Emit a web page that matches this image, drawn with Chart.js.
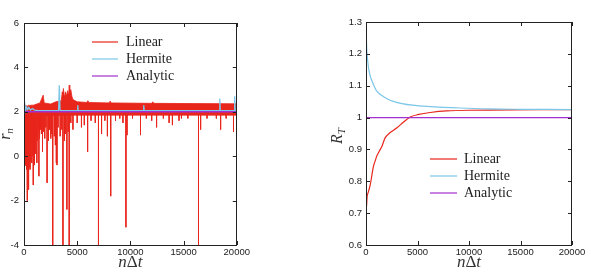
<!DOCTYPE html>
<html>
<head>
<meta charset="utf-8">
<script src="https://cdn.jsdelivr.net/npm/chart.js@4/dist/chart.umd.min.js"></script>
<style>
html, body { margin: 0; padding: 0; background: #fff; overflow: hidden; }
canvas { position: absolute; top: 0; }
#left { left: 0; }
#right { left: 295px; }
</style>
</head>
<body>
<canvas id="left" width="252" height="277"></canvas>
<canvas id="right" width="296" height="277"></canvas>
<script>
var xTicks = [0, 5000, 10000, 15000, 20000];

// left panel: r_n
var bandX     = [0, 100, 300, 450, 560, 700, 900, 1000, 1200, 1500, 1800, 1900, 2500, 3000, 3500, 3600, 3650, 3700, 3800, 3900, 4000, 4100, 4200, 4250, 4300, 4400, 4500, 4600, 4800, 5000, 5900, 6000, 6100, 8000, 8100, 8200, 12000, 12100, 12200, 16000, 20000];
var bandUpper = [2.25, 2.3, 2.25, 2.3, 2.28, 2.3, 2.3, 2.32, 2.35, 2.4, 2.75, 2.4, 2.35, 2.45, 2.5, 2.9, 2.6, 3.05, 2.65, 2.9, 2.7, 2.95, 2.75, 3.2, 2.8, 3.0, 2.7, 2.55, 2.5, 2.45, 2.42, 2.5, 2.42, 2.4, 2.48, 2.4, 2.38, 2.45, 2.38, 2.37, 2.36];
var bandLower = [0.2, -0.4, -0.5, -0.3, 0.5, 1.0, 1.4, 1.55, 1.65, 1.75, 1.8, 1.82, 1.83, 1.84, 1.84, 1.84, 1.84, 1.84, 1.84, 1.84, 1.84, 1.84, 1.84, 1.84, 1.84, 1.84, 1.84, 1.84, 1.85, 1.85, 1.85, 1.85, 1.85, 1.85, 1.85, 1.85, 1.85, 1.85, 1.85, 1.85, 1.85];
var spikeX   = [40, 80, 120, 160, 200, 250, 310, 350, 390, 430, 480, 520, 570, 620, 680, 730, 780, 870, 920, 980, 1050, 1100, 1150, 1210, 1260, 1330, 1400, 1460, 1550, 1640, 1740, 1850, 1950, 2050, 2170, 2300, 2400, 2520, 2600, 2700, 2850, 2950, 3040, 3100, 3200, 3400, 3550, 3660, 3800, 3900, 4030, 4150, 4250, 4400, 4600, 5000, 5400, 5670, 5980, 6300, 6700, 7000, 7290, 7600, 7840, 8150, 8600, 9000, 9300, 9580, 9680, 10200, 10950, 11500, 12000, 12460, 13100, 13640, 13950, 14570, 14800, 15400, 16400, 16600, 17200, 18080, 18480, 19000, 19690];
var spikeMin = [0.3, -0.1, 0.6, -0.3, 0.2, -0.6, -2.0, -0.4, 0.1, -1.5, -0.5, 0.4, -0.6, -0.2, 0.5, -0.3, 0.0, -1.3, 0.2, -0.4, 0.6, 0.1, 0.9, -0.3, 0.7, 1.1, -0.9, 0.8, 1.2, 1.0, 0.2, 1.1, 0.8, 1.3, -1.2, 0.7, 1.2, 0.8, 1.0, -4.2, 0.9, 0.5, -0.3, -0.4, 1.3, 0.9, 1.2, -4.2, 0.7, 1.0, -2.4, 1.1, -4.2, 1.5, 1.2, 1.5, 1.3, 1.4, 0.2, 1.6, 1.5, -4.2, 1.0, 1.6, 0.9, -1.8, 1.6, 1.7, 1.5, -3.2, 0.95, 1.7, 0.95, 1.7, 1.6, 1.3, 1.7, 1.5, 1.4, 1.6, 1.7, 1.7, -4.2, 1.2, 1.7, 1.7, 1.2, 1.7, 1.1];
var hermLX = [0, 50, 100, 150, 250, 350, 450, 600, 800, 1000, 1300, 3250, 3320, 3390, 5000, 5050, 5100, 11200, 11250, 11300, 18350, 18400, 18450, 19750, 19800, 19850, 20000];
var hermLY = [2.4, 2.1, 2.25, 2.05, 2.2, 2.1, 2.2, 2.08, 2.15, 2.07, 2.05, 2.05, 3.2, 2.05, 2.05, 2.3, 2.05, 2.05, 2.3, 2.05, 2.05, 2.6, 2.05, 2.05, 2.7, 2.05, 2.05];
var analyticLX = [0, 20000];
var analyticLY = [2, 2];

// right panel: R_T
var linRX = [0, 60, 120, 260, 420, 600, 740, 900, 1060, 1300, 1550, 1870, 2350, 3000, 3650, 4290, 5000, 6230, 7840, 10000, 14000, 20000];
var linRY = [0.71, 0.725, 0.755, 0.77, 0.79, 0.825, 0.849, 0.865, 0.88, 0.895, 0.91, 0.937, 0.953, 0.968, 0.986, 1.002, 1.009, 1.016, 1.021, 1.023, 1.024, 1.025];
var hermRX = [0, 40, 80, 160, 250, 420, 600, 800, 1060, 1500, 2000, 2650, 3500, 4500, 5900, 7500, 9150, 12000, 15000, 20000];
var hermRY = [1.32, 1.25, 1.21, 1.18, 1.155, 1.129, 1.113, 1.098, 1.082, 1.07, 1.06, 1.051, 1.044, 1.039, 1.035, 1.032, 1.030, 1.027, 1.026, 1.025];
var analyticRX = [0, 20000];
var analyticRY = [1, 1];

var RED = "#e8261c", CYAN = "#7cc6e8", PURPLE = "#a22fcf";
var labels = ["Linear", "Hermite", "Analytic"];
var colors = [RED, CYAN, PURPLE];

function pts(xs, ys) {
    return xs.map(function (x, i) { return { x: x, y: ys[i] }; });
}

var spikePts = [];
spikeX.forEach(function (x, i) {
    spikePts.push({ x: x, y: 1.9 }, { x: x, y: spikeMin[i] }, { x: x, y: null });
});

// box, inward ticks, titles and legend
var decor = {
    id: "decor",
    afterDraw: function (chart) {
        var o = chart.options.plugins.decor;
        var ctx = chart.ctx, a = chart.chartArea;
        var xs = chart.scales.x, ys = chart.scales.y;
        ctx.save();
        ctx.strokeStyle = "#222";
        ctx.lineWidth = 1;
        ctx.strokeRect(Math.round(a.left) + 0.5, Math.round(a.top) + 0.5, Math.round(a.right - a.left) - 1, Math.round(a.bottom - a.top));
        ctx.beginPath();
        xTicks.forEach(function (v) {
            var p = Math.round(xs.getPixelForValue(v)) + 0.5;
            ctx.moveTo(p, a.bottom); ctx.lineTo(p, a.bottom - 4);
            ctx.moveTo(p, a.top); ctx.lineTo(p, a.top + 4);
        });
        ys.ticks.forEach(function (t) {
            var p = Math.round(ys.getPixelForValue(t.value)) + 0.5;
            ctx.moveTo(a.left, p); ctx.lineTo(a.left + 4, p);
            ctx.moveTo(a.right, p); ctx.lineTo(a.right - 4, p);
        });
        ctx.stroke();

        // x title n Δ t
        ctx.fillStyle = "#333";
        ctx.textBaseline = "middle";
        var parts = [["italic 17px 'Liberation Serif'", "n"], ["17px 'Liberation Serif'", "\u0394"], ["italic 17px 'Liberation Serif'", "t"]];
        var w = 0;
        parts.forEach(function (p) { ctx.font = p[0]; w += ctx.measureText(p[1]).width; });
        var cx = (a.left + a.right) / 2 - w / 2;
        parts.forEach(function (p) {
            ctx.font = p[0]; ctx.textAlign = "left";
            ctx.fillText(p[1], cx, o.xTitleY);
            cx += ctx.measureText(p[1]).width;
        });

        // y title with subscript
        ctx.save();
        ctx.translate(o.yTitleX, o.yTitleY);
        ctx.rotate(-Math.PI / 2);
        ctx.font = "italic 16px 'Liberation Serif'";
        var mw = ctx.measureText(o.yMain).width;
        ctx.font = "italic 11px 'Liberation Serif'";
        var sw = ctx.measureText(o.ySub).width;
        var sx = -(mw + sw) / 2;
        ctx.font = "italic 16px 'Liberation Serif'";
        ctx.fillText(o.yMain, sx, 0);
        ctx.font = "italic 11px 'Liberation Serif'";
        ctx.fillText(o.ySub, sx + mw, 4);
        ctx.restore();

        // legend
        ctx.font = "14px 'Liberation Serif'";
        ctx.textAlign = "left";
        labels.forEach(function (lab, i) {
            var y = o.legY[i];
            ctx.strokeStyle = colors[i];
            ctx.lineWidth = 1.2;
            ctx.beginPath();
            ctx.moveTo(o.legX[0], y); ctx.lineTo(o.legX[1], y);
            ctx.stroke();
            ctx.fillStyle = "#222";
            ctx.fillText(lab, o.legX[2], y);
        });
        ctx.restore();
    }
};

function axes(ymin, ymax, step, yw, ypad, fmt) {
    var tickFont = { family: "'Liberation Sans'", size: 9.5 };
    return {
        x: {
            type: "linear", min: 0, max: 20000,
            afterBuildTicks: function (s) { s.ticks = xTicks.map(function (v) { return { value: v }; }); },
            afterFit: function (s) { s.height = 32; },
            grid: { display: false, drawTicks: false }, border: { display: false },
            ticks: { font: tickFont, color: "#222", padding: 2, maxRotation: 0, autoSkip: false,
                callback: function (v) { return String(v); } }
        },
        y: {
            type: "linear", min: ymin, max: ymax,
            afterFit: function (s) { s.width = yw; },
            grid: { display: false, drawTicks: false }, border: { display: false },
            ticks: { font: tickFont, color: "#222", padding: ypad, stepSize: step, callback: fmt }
        }
    };
}

new Chart(document.getElementById("left"), {
    type: "line",
    data: {
        datasets: [
            { data: pts(analyticLX, analyticLY), borderColor: PURPLE, borderWidth: 1.5, pointRadius: 0, order: 0 },
            { data: pts(hermLX, hermLY), borderColor: CYAN, borderWidth: 1.3, pointRadius: 0, order: 1 },
            { data: spikePts, borderColor: RED, borderWidth: 1, pointRadius: 0, spanGaps: false, clip: 0, order: 2 },
            { data: pts(bandX, bandUpper), borderColor: RED, borderWidth: 0.8, backgroundColor: RED, pointRadius: 0, fill: "+1", order: 3 },
            { data: pts(bandX, bandLower), borderColor: RED, borderWidth: 0.8, pointRadius: 0, fill: false, order: 4 }
        ]
    },
    options: {
        responsive: false, animation: false,
        layout: { padding: { left: 0, top: 23, right: 14, bottom: 0 } },
        scales: axes(-4, 6, 2, 24, 5, function (v) { return String(v); }),
        plugins: {
            legend: { display: false }, tooltip: { enabled: false },
            decor: { xTitleY: 263, yTitleX: 6, yTitleY: 134, yMain: "r", ySub: "n",
                legX: [92, 118, 126], legY: [42, 59, 76] }
        }
    },
    plugins: [decor]
});

new Chart(document.getElementById("right"), {
    type: "line",
    data: {
        datasets: [
            { data: pts(analyticRX, analyticRY), borderColor: PURPLE, borderWidth: 1.3, pointRadius: 0, order: 0 },
            { data: pts(hermRX, hermRY), borderColor: CYAN, borderWidth: 1.2, pointRadius: 0, tension: 0.3, order: 1 },
            { data: pts(linRX, linRY), borderColor: RED, borderWidth: 1.2, pointRadius: 0, tension: 0.3, order: 2 }
        ]
    },
    options: {
        responsive: false, animation: false,
        layout: { padding: { left: 0, top: 22, right: 19, bottom: 0 } },
        scales: axes(0.6, 1.3, 0.1, 71, 4, function (v) { return String(Math.round(v * 10) / 10); }),
        plugins: {
            legend: { display: false }, tooltip: { enabled: false },
            decor: { xTitleY: 263, yTitleX: 43, yTitleY: 136, yMain: "R", ySub: "T",
                legX: [135, 162, 169], legY: [159, 176, 193] }
        }
    },
    plugins: [decor]
});
</script>
</body>
</html>
